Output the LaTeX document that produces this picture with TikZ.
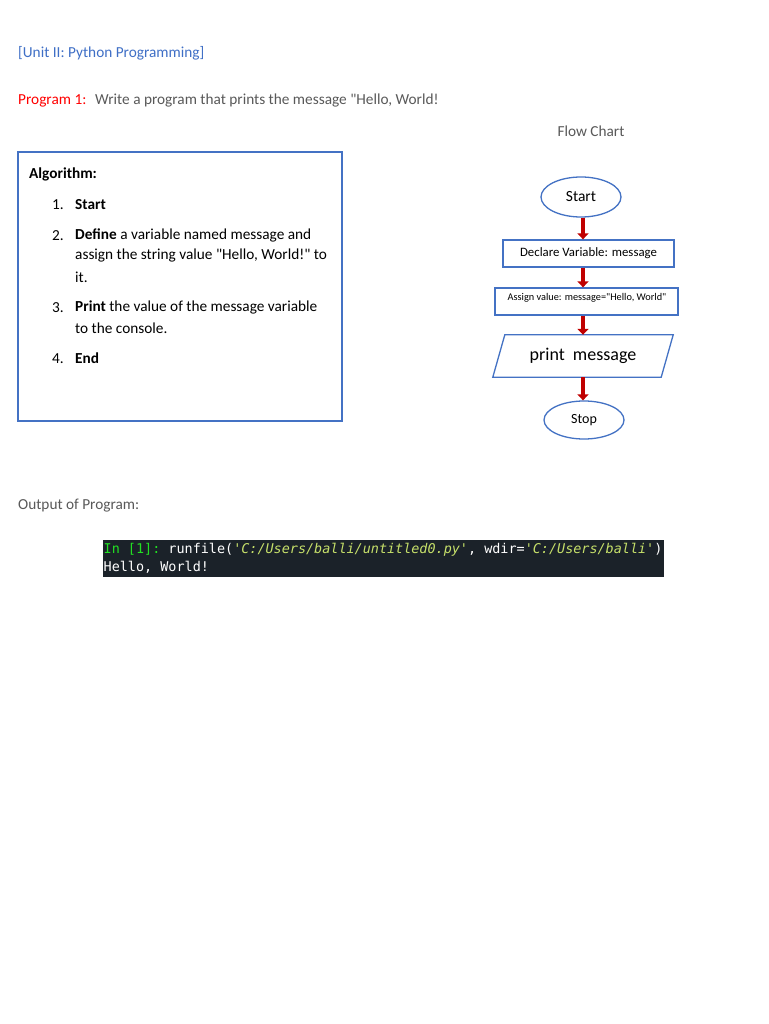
\documentclass[tikz,border=0pt]{standalone}
\usepackage{fontspec}
\setmainfont{Carlito}[Ligatures=TeXOff]
\setmonofont{DejaVu Sans Mono}
\usetikzlibrary{arrows.meta,shapes.geometric}
\definecolor{titleblue}{HTML}{3F6FC6}
\definecolor{boxblue}{HTML}{4472C4}
\definecolor{txtgray}{HTML}{595959}
\definecolor{arrowred}{HTML}{C00000}
\definecolor{consolebg}{HTML}{1B2229}
\definecolor{consgreen}{HTML}{22E022}
\definecolor{consstr}{HTML}{C6E06A}
\tikzset{
  txt/.style={anchor=west, inner sep=0pt, font=\fontsize{15.3}{18}\selectfont},
  flowbox/.style={draw=boxblue, line width=1.3pt, fill=white},
  flowarrow/.style={draw=arrowred, line width=3.8pt, -{Triangle[width=11pt,length=6pt]}},
}
\begin{document}
\begin{tikzpicture}[x=1pt,y=-1pt]
\useasboundingbox[fill=white] (0,0) rectangle (768,1024);

% Headings
\node[txt, text=titleblue] (unit) at (18,53) {[Unit II: Python Programming]};
\node[txt, text=red] (prog) at (18,101) {Program 1:};
\node[txt, text=txtgray] (progtext) at (95,101) {Write a program that prints the message "Hello, World!};
\node[txt, anchor=center, text=txtgray] (fctitle) at (591,131) {Flow Chart};

% Algorithm box
\draw[draw=boxblue, line width=1.6pt] (18,152) rectangle (342,421);
\node[txt] (alg) at (29,174) {\textbf{Algorithm:}};
\node[txt] (n1) at (52,205) {1.};
\node[txt] (t1) at (75,205) {\textbf{Start}};
\node[txt] (n2) at (52,235.5) {2.};
\node[txt] (t2a) at (75,235.5) {\textbf{Define} a variable named message and};
\node[txt] (t2b) at (75,256) {assign the string value "Hello, World!" to};
\node[txt] (t2c) at (75,277) {it.};
\node[txt] (n3) at (52,307.5) {3.};
\node[txt] (t3a) at (75,307.5) {\textbf{Print} the value of the message variable};
\node[txt] (t3b) at (75,328) {to the console.};
\node[txt] (n4) at (52,358.5) {4.};
\node[txt] (t4) at (75,358.5) {\textbf{End}};

% Flow chart
\node[flowbox, ellipse, minimum width=80, minimum height=40, inner sep=0pt,
      font=\fontsize{15.5}{18}\selectfont] (start) at (581,197) {Start};
\node[flowbox, rectangle, minimum width=171, minimum height=27, inner sep=0pt,
      font=\fontsize{12.8}{15}\selectfont] (declare) at (588.5,253.5) {Declare Variable: message};
\node[flowbox, rectangle, minimum width=183, minimum height=27, inner sep=0pt] (assign) at (586.5,301.5) {};
\node[inner sep=0pt, font=\fontsize{10.3}{12}\selectfont] (assigntxt) at (587,298) {Assign value: message="Hello, World"};
\node[minimum width=168, minimum height=42, inner sep=0pt] (print) at (583,356) {};
\draw[draw=boxblue, line width=1.3pt] ([xshift=6pt]print.north west) -- ([xshift=6pt]print.north east)
   -- ([xshift=-6pt]print.south east) -- ([xshift=-6pt]print.south west) -- cycle;
\node[inner sep=0pt, font=\fontsize{18}{21}\selectfont] (printtxt) at (583,356) {print\ \ message};
\node[flowbox, ellipse, minimum width=80, minimum height=38, inner sep=0pt,
      font=\fontsize{14}{17}\selectfont] (stop) at (584,420) {Stop};

\draw[flowarrow] (start.south -| 583,0) -- (declare.north -| 583,0);
\draw[flowarrow] (declare.south -| 583,0) -- (assign.north -| 583,0);
\draw[flowarrow] (assign.south -| 583,0) -- (print.north -| 583,0);
\draw[flowarrow] (print.south -| 583,0) -- (stop.north -| 583,0);

% Output
\node[txt, text=txtgray] (outlabel) at (18,506) {Output of Program:};
\node[fill=consolebg, minimum width=561, minimum height=37, inner sep=0pt] (console) at (383.5,558.5) {};
\node[anchor=west, inner sep=0pt, font=\ttfamily\fontsize{13.45}{16}\selectfont, text=white] (line1) at (103.5,549.5)
  {\textcolor{consgreen}{In [1]:} runfile(\textcolor{consstr}{\itshape 'C:/Users/balli/untitled0.py'}, wdir=\textcolor{consstr}{\itshape 'C:/Users/balli'})};
\node[anchor=west, inner sep=0pt, font=\ttfamily\fontsize{13.45}{16}\selectfont, text=white] (line2) at (103.5,567.5) {Hello, World!};
\end{tikzpicture}
\end{document}
